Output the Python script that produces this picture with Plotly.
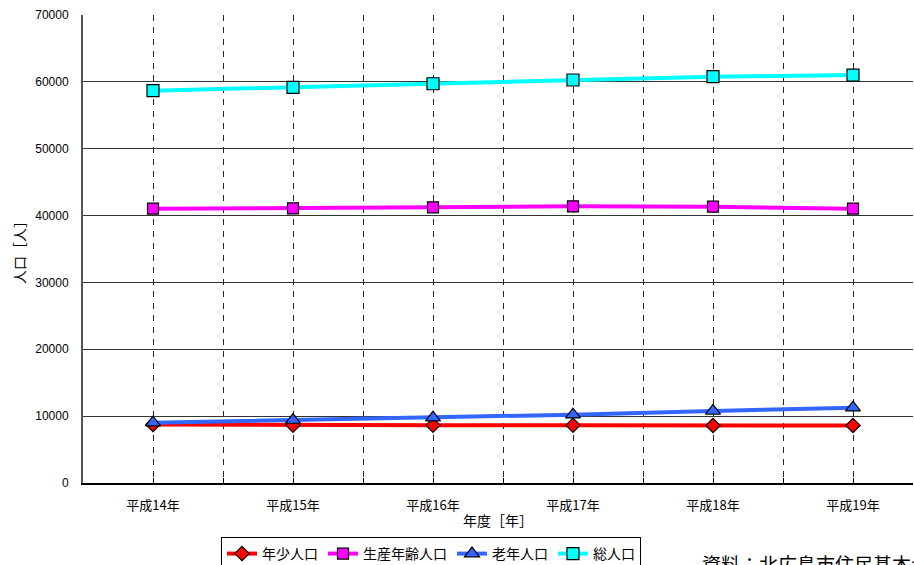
import plotly.graph_objects as go

# Fiscal years (Heisei era)
years = ["平成14年", "平成15年", "平成16年", "平成17年", "平成18年", "平成19年"]

# Population by age group [persons]
young = [8750, 8650, 8650, 8650, 8600, 8600]          # 年少人口
working = [41030, 41080, 41230, 41380, 41330, 41030]  # 生産年齢人口
elderly = [9020, 9420, 9770, 10220, 10770, 11260]     # 老年人口
total = [58680, 59180, 59720, 60280, 60770, 61020]    # 総人口

series_names = ["年少人口", "生産年齢人口", "老年人口", "総人口"]
y_ticks = [0, 10000, 20000, 30000, 40000, 50000, 60000, 70000]

FONT = "Noto Sans CJK JP, Noto Sans, sans-serif"
xpos = list(range(len(years)))

styles = [
    dict(color="#FF0000", symbol="diamond", size=11),
    dict(color="#FF00FF", symbol="square", size=11),
    dict(color="#3366FF", symbol="triangle-up", size=13),
    dict(color="#00FFFF", symbol="square", size=12),
]

fig = go.Figure()
for name, vals, st in zip(series_names, [young, working, elderly, total], styles):
    fig.add_trace(go.Scatter(
        x=xpos, y=vals, name=name, mode="lines+markers",
        line=dict(color=st["color"], width=4),
        marker=dict(symbol=st["symbol"], size=st["size"], color=st["color"],
                    line=dict(color="#000000", width=1.2)),
    ))

fig.update_layout(
    width=914, height=565,
    margin=dict(l=83, r=1, t=15, b=82, autoexpand=False),
    paper_bgcolor="white", plot_bgcolor="white",
    font=dict(family=FONT, size=12, color="#000000"),
    showlegend=True,
    legend=dict(
        orientation="h", x=(221 - 83) / 830, xanchor="left",
        y=-(537 - 483) / 468, yanchor="top",
        bordercolor="#000000", borderwidth=1, bgcolor="white",
        font=dict(family=FONT, size=14), itemwidth=30, tracegroupgap=0,
        itemsizing="trace",
    ),
    annotations=[dict(
        text="資料：北広島市住民基本台帳", xref="paper", yref="paper",
        x=(700 - 83) / 830, y=-(548 - 483) / 468, xanchor="left", yanchor="top",
        showarrow=False, font=dict(family=FONT, size=19, color="#000000"),
    )],
)

fig.update_xaxes(
    range=[-0.5, -0.5 + 830 / 140], tickmode="array",
    tickvals=xpos, ticktext=years,
    showgrid=True, gridcolor="#222222", gridwidth=1, griddash="6px,6px",
    ticks="inside", ticklen=5, tickcolor="#000000",
    minor=dict(tickvals=[i + 0.5 for i in range(-1, len(years))],
               showgrid=True, gridcolor="#222222", gridwidth=1, griddash="6px,6px",
               ticks="inside", ticklen=5, tickcolor="#000000"),
    showline=True, linecolor="#000000", linewidth=2,
    zeroline=False, fixedrange=True, ticklabelstandoff=9,
    tickfont=dict(family=FONT, size=13),
    title=dict(text="年度［年］", font=dict(family=FONT, size=14), standoff=4),
)

fig.update_yaxes(
    range=[0, 70000], tickmode="array", tickvals=y_ticks,
    ticktext=[str(v) for v in y_ticks],
    showgrid=True, gridcolor="#333333", gridwidth=1,
    showline=True, linecolor="#555555", linewidth=2,
    zeroline=False, ticks="", ticklabelstandoff=10,
    tickfont=dict(family="Liberation Sans, Arial, sans-serif", size=12),
    title=dict(text="人口［人］", font=dict(family=FONT, size=14), standoff=6),
)

fig.write_html("out.html")
